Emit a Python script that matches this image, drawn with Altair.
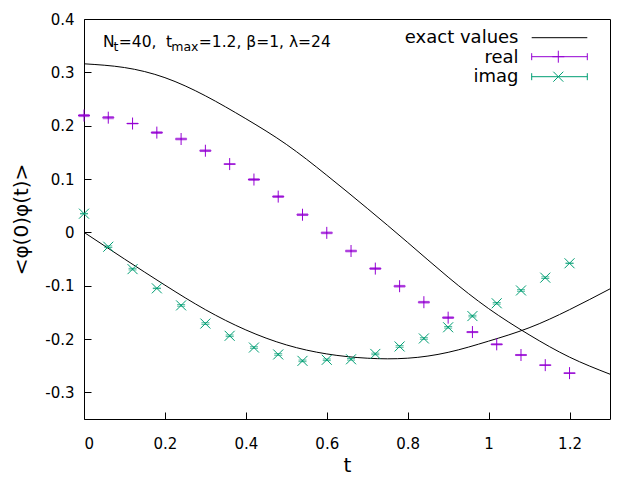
import altair as alt
import pandas as pd

# ---------------- data ----------------
t_pts = [0.00, 0.06, 0.12, 0.18, 0.24, 0.30, 0.36, 0.42, 0.48, 0.54, 0.60,
         0.66, 0.72, 0.78, 0.84, 0.90, 0.96, 1.02, 1.08, 1.14, 1.20]
real_vals = [0.219, 0.215, 0.204, 0.187, 0.175, 0.153, 0.128, 0.099, 0.067, 0.033, -0.001,
             -0.035, -0.068, -0.101, -0.131, -0.160, -0.187, -0.210, -0.230, -0.249, -0.264]
real_err = [0.002, 0.002, 0.0005, 0.0015, 0.0015, 0.0015, 0.0005, 0.0015, 0.0015, 0.0015, 0.0015,
            0.0015, 0.0015, 0.0015, 0.0015, 0.0015, 0.001, 0.001, 0.001, 0.0005, 0.0005]
imag_vals = [0.035, -0.027, -0.069, -0.105, -0.137, -0.171, -0.194, -0.216, -0.229, -0.241, -0.239,
             -0.238, -0.228, -0.214, -0.199, -0.178, -0.157, -0.133, -0.109, -0.085, -0.058]
imag_err = [0.0005, 0.0015, 0.0015, 0.0005, 0.0015, 0.0015, 0.0015, 0.0015, 0.0015, 0.0015, 0.0015,
            0.0015, 0.0015, 0.0015, 0.0015, 0.0015, 0.0015, 0.0015, 0.0015, 0.0015, 0.0005]

t_exact = [0.0, 0.1, 0.2, 0.3, 0.4, 0.5, 0.6, 0.7, 0.8, 0.9, 1.0, 1.1, 1.2, 1.3]
exact_real = [0.316, 0.309, 0.290, 0.256, 0.213, 0.165, 0.107, 0.045, -0.019, -0.084,
              -0.143, -0.192, -0.234, -0.266]
exact_imag = [0.000, -0.050, -0.099, -0.145, -0.183, -0.211, -0.228, -0.236, -0.236, -0.225,
              -0.204, -0.179, -0.145, -0.106]

x_ticks = [0, 0.2, 0.4, 0.6, 0.8, 1, 1.2]
y_ticks = [-0.3, -0.2, -0.1, 0, 0.1, 0.2, 0.3, 0.4]
x_title = "t"
y_title = "<φ(0)φ(t)>"
legend_labels = ["exact values", "real", "imag"]
title_segments = ["N", "t", "=40,", "t", "max", "=1.2, β=1, λ=24"]
title_is_sub = [False, True, False, False, True, False]

REAL_C = "#9400D3"
IMAG_C = "#009E73"
FONT = "DejaVu Sans"
PLUS = "M-1,0L1,0M0,-1L0,1"
CROSS = "M-1,-1L1,1M-1,1L1,-1"

# ---------------- tables ----------------
pts = pd.DataFrame({
    "t": t_pts,
    "real": real_vals, "real_lo": [v - e for v, e in zip(real_vals, real_err)],
    "real_hi": [v + e for v, e in zip(real_vals, real_err)],
    "imag": imag_vals, "imag_lo": [v - e for v, e in zip(imag_vals, imag_err)],
    "imag_hi": [v + e for v, e in zip(imag_vals, imag_err)],
})
exact = pd.DataFrame({
    "t": t_exact * 2,
    "v": exact_real + exact_imag,
    "curve": ["re"] * len(t_exact) + ["im"] * len(t_exact),
})

X_AXIS = alt.Axis(values=x_ticks, labelExpr="toString(datum.value)", title=x_title,
                  labelPadding=17, titlePadding=4)
Y_AXIS = alt.Axis(values=y_ticks, labelExpr="toString(datum.value)", title=y_title,
                  labelPadding=10, titlePadding=13)
XS = alt.Scale(domain=[0, 1.3], nice=False, zero=False)
YS = alt.Scale(domain=[-0.35, 0.4], nice=False, zero=False)


def xq(f):
    return alt.X(f"{f}:Q", scale=XS, axis=X_AXIS)


def yq(f):
    return alt.Y(f"{f}:Q", scale=YS, axis=Y_AXIS)


lines = alt.Chart(exact).mark_line(color="black", strokeWidth=1, interpolate="natural").encode(
    x=xq("t"), y=yq("v"), detail="curve:N")

base = alt.Chart(pts)
real_err_l = base.mark_errorbar(color=REAL_C, ticks={"size": 11}, thickness=1).encode(
    x=xq("t"), y=yq("real_lo"), y2="real_hi:Q")
imag_err_l = base.mark_errorbar(color=IMAG_C, ticks={"size": 8}, thickness=1).encode(
    x=xq("t"), y=yq("imag_lo"), y2="imag_hi:Q")
real_pt = base.mark_point(shape=PLUS, size=144, color=REAL_C, strokeWidth=1, filled=False, opacity=1).encode(
    x=xq("t"), y=yq("real"))
imag_pt = base.mark_point(shape=CROSS, size=100, color=IMAG_C, strokeWidth=1, filled=False, opacity=1).encode(
    x=xq("t"), y=yq("imag"))

one = pd.DataFrame({"k": [0]})

# ---------------- key (gnuplot style, top right) ----------------
key_layers = []
key_text_y = [24.3, 43.8, 63.3]
key_line_y = [18.7, 37.7, 57.7]
key_colors = ["black", REAL_C, IMAG_C]
for i, lab in enumerate(legend_labels):
    key_layers.append(
        alt.Chart(pd.DataFrame({"label": [lab]})).mark_text(
            align="right", baseline="alphabetic", fontSize=18, font=FONT, color="black"
        ).encode(x=alt.value(434.5), y=alt.value(key_text_y[i]), text="label:N"))
    key_layers.append(
        alt.Chart(one).mark_rule(color=key_colors[i], strokeWidth=1).encode(
            x=alt.value(447.7), x2=alt.value(503.3), y=alt.value(key_line_y[i])))
    if i > 0:
        for xx in (447.7, 503.3):
            key_layers.append(
                alt.Chart(one).mark_rule(color=key_colors[i], strokeWidth=1).encode(
                    x=alt.value(xx), y=alt.value(key_line_y[i] - 3.5), y2=alt.value(key_line_y[i] + 3.5)))
        key_layers.append(
            alt.Chart(one).mark_point(shape=PLUS if i == 1 else CROSS, size=144 if i == 1 else 100,
                                      color=key_colors[i], strokeWidth=1, filled=False, opacity=1).encode(
                x=alt.value(474.3), y=alt.value(key_line_y[i])))

# ---------------- annotation with subscripts ----------------
seg_x = [19.0, 29.4, 34.8, 82.0, 87.2, 114.8]
title_layers = []
for s, sub, xx in zip(title_segments, title_is_sub, seg_x):
    title_layers.append(
        alt.Chart(pd.DataFrame({"s": [s]})).mark_text(
            align="left", baseline="alphabetic", fontSize=12.5 if sub else 15.5, font=FONT, color="black"
        ).encode(x=alt.value(xx), y=alt.value(31.8 if sub else 28.3), text="s:N"))

chart = alt.layer(
    lines, real_err_l, imag_err_l, real_pt, imag_pt, *key_layers, *title_layers
).properties(
    width=526, height=400,
    autosize=alt.AutoSizeParams(type="none"),
    padding={"left": 76, "top": 11, "right": 20, "bottom": 53},
    background="white",
).configure_view(
    stroke="black", strokeWidth=1
).configure_axis(
    domain=False, grid=False, tickColor="black", tickSize=7, tickWidth=1, offset=-7,
    labelFont=FONT, labelFontSize=15, labelColor="black",
    titleFont=FONT, titleFontSize=20, titleFontWeight="normal", titleColor="black",
)

chart.save("out.html", embed_options={"renderer": "svg", "actions": False})
